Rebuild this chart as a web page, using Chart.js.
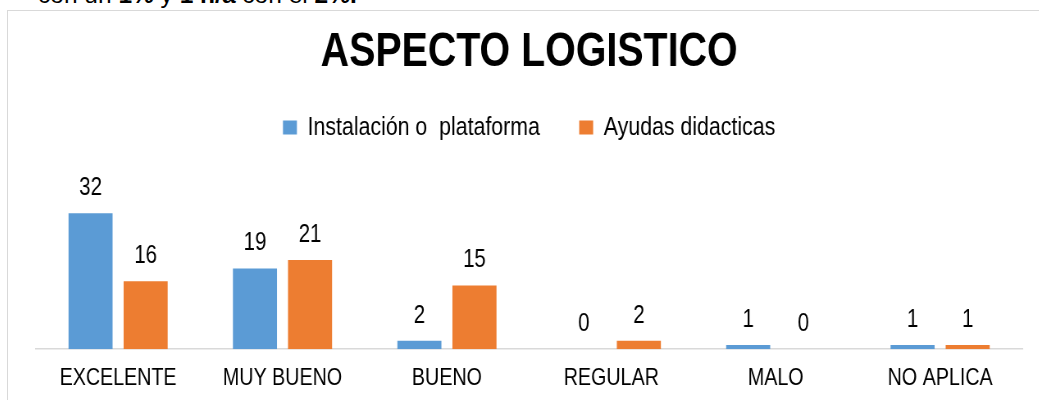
<!DOCTYPE html>
<html>
<head>
<meta charset="utf-8">
<script src="https://cdn.jsdelivr.net/npm/chart.js@4.4.1/dist/chart.umd.min.js"></script>
<style>
  body { margin: 0; background: #fff; overflow: hidden; width: 1039px; height: 400px; position: relative; }
  #nota { position: absolute; left: 38px; top: -20px; font-family: "Liberation Sans", Arial, sans-serif; font-size: 24.5px; color: #000; white-space: nowrap; line-height: 30px; }
  #caja { position: absolute; left: 7px; top: 10px; width: 1100px; height: 420px; border-left: 1.5px solid #d9d9d9; border-top: 1.5px solid #d9d9d9; }
  /* el original tiene el texto estrecho: se comprime el lienzo en horizontal */
  #grafico1 { display: block; transform: scaleX(0.82); transform-origin: 0 0; }
</style>
</head>
<body>
<div id="nota">con un <b>1%</b> y <b>1 n/a</b> con el <b>2%.</b></div>
<div id="caja"><canvas id="grafico1" width="1273" height="406"></canvas></div>
<script>
const grafico1 = document.getElementById("grafico1")

let categorias = ["EXCELENTE", "MUY BUENO", "BUENO", "REGULAR", "MALO", "NO APLICA"]
let instalacion = [32, 19, 2, 0, 1, 1]
let ayudas = [16, 21, 15, 2, 0, 1]

const fuente = "'Liberation Sans', Arial, sans-serif"

// etiquetas de valor encima de cada barra
const etiquetas = {
    id: 'etiquetas',
    afterDatasetsDraw(chart) {
        const ctx = chart.ctx
        ctx.save()
        ctx.font = "25px " + fuente
        ctx.fillStyle = '#000'
        ctx.textAlign = 'center'
        ctx.textBaseline = 'middle'
        chart.data.datasets.forEach((ds, i) => {
            chart.getDatasetMeta(i).data.forEach((bar, j) => {
                ctx.fillText(ds.data[j], bar.x, bar.y - 25)
            })
        })
        ctx.restore()
    }
}

new Chart(grafico1, {
    type: 'bar',
    data: {
        labels: categorias,
        datasets: [{
            label: 'Instalación o  plataforma',
            data: instalacion,
            backgroundColor: '#5B9BD5',
            borderWidth: 0,
            categoryPercentage: 0.67,
            barPercentage: 0.8
        }, {
            label: 'Ayudas didacticas',
            data: ayudas,
            backgroundColor: '#ED7D31',
            borderWidth: 0,
            categoryPercentage: 0.67,
            barPercentage: 0.8
        }]
    },
    options: {
        responsive: false,
        animation: false,
        layout: {
            padding: { left: 34, right: 36, top: 0, bottom: 9 }
        },
        plugins: {
            title: {
                display: true,
                text: 'ASPECTO LOGISTICO',
                color: '#000',
                font: { family: fuente, size: 48, weight: 'bold', lineHeight: 0.5625 },
                padding: { top: 28.5, bottom: 0 }
            },
            legend: {
                labels: {
                    color: '#000',
                    boxWidth: 17,
                    boxHeight: 14,
                    padding: 48,
                    font: { family: fuente, size: 26 }
                }
            },
            tooltip: { enabled: false }
        },
        scales: {
            x: {
                grid: { display: false, drawTicks: false },
                border: { display: true, color: '#d9d9d9', width: 1.5 },
                ticks: { color: '#000', padding: 15, font: { family: fuente, size: 24 } }
            },
            y: {
                display: false,
                min: 0,
                max: 46.8
            }
        }
    },
    plugins: [etiquetas]
});
</script>
</body>
</html>
